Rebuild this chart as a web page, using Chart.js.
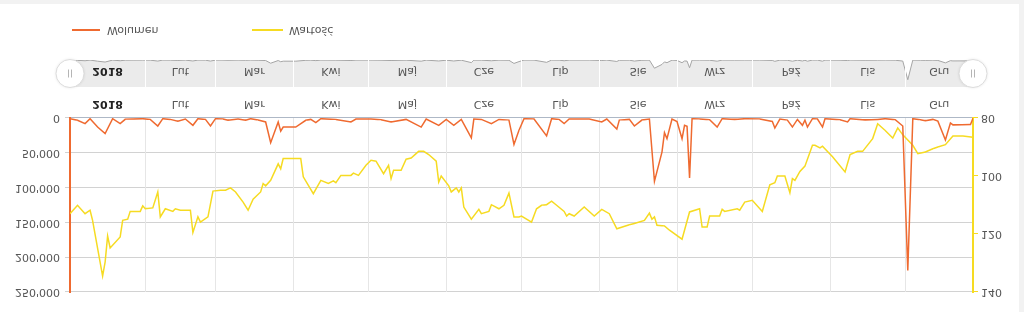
<!DOCTYPE html>
<html>
<head>
<meta charset="utf-8">
<script src="https://cdn.jsdelivr.net/npm/chart.js@4.4.1/dist/chart.umd.min.js"></script>
<style>
  html, body { margin: 0; padding: 0; background: #f2f2f2; }
  /* the reference picture is mirrored top-to-bottom, so the whole stage is flipped */
  #stage { position: relative; width: 1024px; height: 312px; overflow: hidden; transform: scaleY(-1); }
  #card { position: absolute; left: 0; top: 0; width: 1019px; height: 308px; background: #fff; }
  canvas { position: absolute; left: 0; }
  #main { top: 0; }
  #nav { top: 215px; }
  #legend { position: absolute; left: 0; top: 275px; width: 1019px; height: 14px;
            font: 11px 'DejaVu Sans', Verdana, sans-serif; color: #555; }
  #legend .sw { position: absolute; top: 6px; height: 2px; }
  #legend .tx { position: absolute; top: 0; line-height: 14px; }
</style>
</head>
<body>
<div id="stage">
  <div id="card"></div>
  <canvas id="main" width="1024" height="225"></canvas>
  <canvas id="nav" width="1024" height="50"></canvas>
  <div id="legend"></div>
</div>
<script>
const months = ['2018', 'Lut', 'Mar', 'Kwi', 'Maj', 'Cze', 'Lip', 'Sie', 'Wrz', 'Paź', 'Lis', 'Gru'];
// day of year (0 = 1 Jan) where each month starts; first and last trading day
const monthStarts = [1, 31, 59, 90, 120, 151, 181, 212, 243, 273, 304, 334];
const firstDay = 1;
const lastDay = 361;

const wolumenDays = [1, 4, 7, 9, 12, 15, 18, 21, 23, 30, 33, 36, 38, 41, 44, 47, 50, 52, 55, 57,
  59, 62, 64, 68, 71, 73, 76, 79, 81, 84, 85, 86, 91, 95, 97, 99, 101, 107, 113, 115,
  121, 125, 129, 135, 141, 143, 148, 151, 154, 157, 161, 162, 165, 169, 172, 176, 178, 180, 182, 186,
  191, 193, 196, 198, 200, 208, 213, 215, 219, 220, 224, 226, 229, 232, 234, 237, 238, 239, 241, 243,
  245, 246, 247, 248, 249, 252, 256, 259, 261, 266, 270, 276, 281, 282, 284, 287, 289, 291, 293, 294,
  295, 297, 299, 301, 302, 308, 311, 312, 318, 323, 326, 330, 333, 335, 337, 340, 342, 345, 347, 350,
  352, 353, 360, 361];
const wolumen = [1000, 3300, 8000, 1000, 13000, 22500, 1000, 8000, 1900, 1000, 2000, 11500, 1000, 2000, 4800, 1500, 10500, 1000, 2000, 11500,
  1000, 1500, 3300, 1500, 3300, 1000, 3000, 5700, 35500, 5700, 19000, 13000, 13000, 3300, 2000, 6700, 1000, 2000, 5700, 1500,
  1500, 2500, 5700, 2000, 13000, 1500, 10500, 2000, 10500, 2000, 28700, 1500, 2000, 8000, 2000, 3000, 38000, 17700, 1000, 1500,
  25800, 1000, 2000, 8000, 1500, 1500, 5700, 1500, 16000, 3000, 2000, 11500, 3000, 1500, 91000, 49000, 21000, 29700, 1500, 5000,
  29700, 10500, 12000, 86000, 1000, 1500, 2500, 13000, 1000, 2000, 1000, 1500, 5000, 14400, 1500, 3000, 13000, 2000, 10500, 3000,
  13000, 1000, 1500, 13000, 1000, 2500, 5700, 1000, 3000, 2000, 1000, 2500, 11500, 219000, 1000, 2500, 4000, 2000, 4500, 31600,
  7200, 10000, 9500, 500];

const wartoscDays = [1, 4, 7, 9, 10, 14, 15, 16, 17, 21, 22, 24, 25, 29, 30, 31, 34, 36, 37, 39,
  42, 43, 45, 49, 50, 52, 53, 56, 58, 61, 63, 65, 67, 70, 72, 74, 77, 78, 79, 81,
  84, 85, 86, 93, 94, 98, 101, 104, 106, 107, 109, 113, 114, 116, 119, 121, 123, 126, 128, 129,
  130, 133, 135, 137, 140, 142, 144, 147, 148, 149, 152, 153, 155, 156, 157, 158, 161, 164, 165, 168,
  169, 172, 174, 176, 178, 180, 181, 185, 187, 189, 191, 193, 195, 198, 199, 200, 202, 206, 210, 213,
  216, 219, 224, 226, 230, 232, 233, 234, 235, 238, 240, 245, 248, 252, 253, 255, 256, 260, 261, 262,
  267, 268, 270, 273, 277, 280, 282, 283, 286, 288, 289, 290, 292, 294, 297, 298, 300, 301, 305, 310,
  312, 315, 317, 321, 323, 326, 329, 331, 333, 337, 339, 342, 345, 347, 350, 353, 357, 361];
const wartosc = [113.0, 110.1, 113.0, 111.8, 115.3, 134.5, 129.7, 120.7, 124.8, 121.0, 115.3, 114.9, 112.2, 112.2, 110.3, 111.3, 111.0, 105.5, 114.1, 111.3,
  112.2, 111.3, 111.8, 111.8, 119.5, 114.1, 115.9, 114.1, 105.2, 104.9, 104.9, 104.1, 105.5, 109.0, 111.8, 108.0, 105.5, 102.6, 103.4, 101.5,
  95.8, 97.5, 94.0, 94.0, 100.3, 106.1, 101.5, 102.6, 101.7, 102.3, 99.8, 99.8, 99.0, 99.8, 96.3, 94.6, 94.9, 99.2, 96.3, 100.9,
  98.0, 98.0, 94.2, 93.8, 91.5, 91.5, 92.6, 94.9, 102.1, 100.0, 103.4, 105.5, 104.1, 105.5, 104.1, 110.7, 114.9, 111.5, 113.0, 112.2,
  109.9, 111.3, 110.1, 105.9, 114.1, 114.1, 113.8, 115.9, 111.3, 110.1, 109.9, 108.7, 110.1, 112.2, 113.8, 113.0, 113.8, 110.7, 113.8, 111.5,
  113.0, 118.2, 116.8, 116.4, 115.3, 112.8, 114.9, 114.1, 117.0, 117.2, 118.7, 121.8, 112.4, 111.3, 117.6, 117.6, 113.8, 113.8, 111.5, 112.2,
  111.3, 111.8, 109.0, 108.4, 112.2, 103.0, 102.3, 100.0, 100.0, 105.8, 100.9, 101.5, 98.4, 96.6, 89.4, 89.4, 90.3, 89.7, 93.4, 98.6,
  92.6, 91.5, 91.5, 87.1, 82.0, 84.3, 86.9, 83.4, 85.8, 89.4, 92.3, 91.7, 90.6, 90.0, 89.2, 86.2, 86.2, 86.6];

const orange = '#ef6a30';
const yellow = '#f6db22';
const fontFamily = "'DejaVu Sans', Verdana, sans-serif";

Chart.defaults.font.family = fontFamily;
Chart.defaults.font.size = 11;
Chart.defaults.color = '#555';

const toPoints = (xs, ys) => xs.map((x, i) => ({ x: x, y: ys[i] }));
const fmt = v => String(v).replace(/\B(?=(\d{3})+(?!\d))/g, "'");
const monthMids = monthStarts.map((s, i) => (s + (i + 1 < monthStarts.length ? monthStarts[i + 1] : lastDay)) / 2);
const labelFont = ctx => ({ family: fontFamily, size: 11, weight: ctx.index === 0 ? 'bold' : 'normal' });
const labelColor = ctx => ctx.index === 0 ? '#222' : '#555';

function gridAxis(gridColor, gridZ, border) {
    return {
        type: 'linear',
        min: firstDay,
        max: lastDay,
        weight: 0,
        afterBuildTicks: ax => { ax.ticks = monthStarts.slice(1).map(v => ({ value: v })); },
        afterFit: ax => { ax.height = 0; },
        ticks: { display: false },
        grid: { color: gridColor, drawTicks: false, z: gridZ },
        border: border
    };
}

function labelAxis(padding, height, mirror, z) {
    return {
        type: 'linear',
        position: 'bottom',
        min: firstDay,
        max: lastDay,
        weight: 1,
        afterBuildTicks: ax => { ax.ticks = monthMids.map(v => ({ value: v })); },
        afterFit: ax => { ax.height = height; },
        ticks: {
            autoSkip: false,
            maxRotation: 0,
            mirror: mirror,
            padding: padding,
            z: z,
            font: labelFont,
            color: labelColor,
            callback: (v, i) => months[i]
        },
        grid: { display: false, drawTicks: false },
        border: { display: false }
    };
}

const mainChart = new Chart(document.getElementById('main'), {
    type: 'line',
    data: {
        datasets: [{
            label: 'Wolumen',
            data: toPoints(wolumenDays, wolumen),
            yAxisID: 'y',
            borderColor: orange,
            borderWidth: 1.5,
            pointRadius: 0,
            tension: 0
        }, {
            label: 'Wartość',
            data: toPoints(wartoscDays, wartosc),
            yAxisID: 'y1',
            borderColor: yellow,
            borderWidth: 1.5,
            pointRadius: 0,
            tension: 0
        }]
    },
    options: {
        responsive: false,
        animation: false,
        events: [],
        layout: { padding: { top: 20, left: 0, right: 0, bottom: 0 } },
        plugins: { legend: { display: false }, tooltip: { enabled: false } },
        scales: {
            x: gridAxis('#e6e6e6', 0, { color: '#aeb8c6', width: 1 }),
            xl: labelAxis(8, 31, false, 0),
            y: {
                position: 'left',
                min: 0,
                max: 250000,
                afterFit: ax => { ax.width = 70; },
                ticks: { stepSize: 50000, padding: 5, callback: fmt },
                grid: { color: '#d2d2d2', tickLength: 5, tickColor: '#d2d2d2' },
                border: { color: orange, width: 2 }
            },
            y1: {
                position: 'right',
                min: 80,
                max: 140,
                afterFit: ax => { ax.width = 51; },
                ticks: { stepSize: 20, padding: 3 },
                grid: { drawOnChartArea: false, tickLength: 5, tickColor: yellow },
                border: { color: yellow, width: 2 }
            }
        }
    }
});

// round grips at both ends of the navigator
const handles = {
    id: 'handles',
    afterDraw(chart) {
        const { ctx, chartArea } = chart;
        const mid = (chartArea.top + chartArea.bottom) / 2;
        [chartArea.left, chartArea.right].forEach(x => {
            ctx.save();
            ctx.beginPath();
            ctx.arc(x, mid, 14, 0, Math.PI * 2);
            ctx.fillStyle = '#fff';
            ctx.shadowColor = 'rgba(0,0,0,0.12)';
            ctx.shadowBlur = 3;
            ctx.fill();
            ctx.shadowColor = 'transparent';
            ctx.strokeStyle = '#dcdcdc';
            ctx.lineWidth = 1;
            ctx.stroke();
            ctx.strokeStyle = '#b5b5b5';
            ctx.beginPath();
            ctx.moveTo(x - 1.5, mid - 4); ctx.lineTo(x - 1.5, mid + 4);
            ctx.moveTo(x + 1.5, mid - 4); ctx.lineTo(x + 1.5, mid + 4);
            ctx.stroke();
            ctx.restore();
        });
    }
};

new Chart(document.getElementById('nav'), {
    type: 'line',
    data: {
        datasets: [{
            data: toPoints(wolumenDays, wolumen),
            borderColor: '#a5a5a5',
            borderWidth: 1,
            backgroundColor: '#ebebeb',
            fill: 'end',
            pointRadius: 0,
            tension: 0
        }]
    },
    options: {
        responsive: false,
        animation: false,
        events: [],
        layout: { padding: { top: 10, left: 70, right: 51, bottom: 13 } },
        plugins: { legend: { display: false }, tooltip: { enabled: false } },
        scales: {
            x: gridAxis('#ffffff', 1, { display: false }),
            xl: labelAxis(4, 0, true, 2),
            y: { display: false, min: 0, max: 300000 }
        }
    },
    plugins: [handles]
});

// legend built from the main chart's datasets
const legend = document.getElementById('legend');
const legendPos = [{ line: 72, w: 28, text: 107 }, { line: 252, w: 31, text: 289 }];
mainChart.data.datasets.forEach((ds, i) => {
    const p = legendPos[i];
    const sw = document.createElement('span');
    sw.className = 'sw';
    sw.style.left = p.line + 'px';
    sw.style.width = p.w + 'px';
    sw.style.background = ds.borderColor;
    const tx = document.createElement('span');
    tx.className = 'tx';
    tx.style.left = p.text + 'px';
    tx.textContent = ds.label;
    legend.appendChild(sw);
    legend.appendChild(tx);
});
</script>
</body>
</html>
